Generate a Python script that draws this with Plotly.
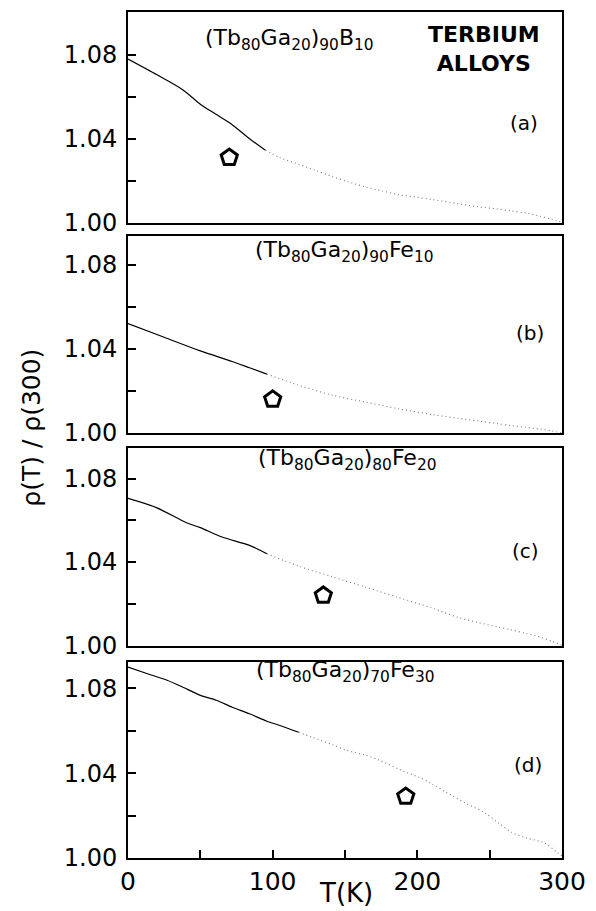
import plotly.graph_objects as go

# ---------------- data ----------------
T_A = [0, 20, 38, 50, 60, 72, 84, 95, 105, 118, 130, 141, 152, 164, 176, 187, 200, 210, 228, 242, 255, 265, 275, 285, 293, 300]
R_A = [1.078, 1.0705, 1.0633, 1.0565, 1.052, 1.0467, 1.040, 1.0345, 1.031, 1.0278, 1.0248, 1.022, 1.0195, 1.017, 1.015, 1.0133,
       1.012, 1.011, 1.009, 1.0075, 1.0065, 1.0055, 1.0045, 1.003, 1.0015, 1.000]

T_B = [0, 25, 50, 72, 84, 96, 118, 141, 164, 187, 210, 228, 242, 255, 265, 275, 285, 293, 300]
R_B = [1.052, 1.0455, 1.039, 1.034, 1.031, 1.028, 1.0227, 1.018, 1.0147, 1.0115, 1.0088, 1.007, 1.0057, 1.0045, 1.0035,
       1.0027, 1.0018, 1.001, 1.000]

T_C = [0, 20, 40, 50, 65, 84, 96, 118, 141, 164, 187, 210, 228, 242, 255, 265, 275, 285, 293, 300]
R_C = [1.0705, 1.066, 1.059, 1.0565, 1.052, 1.048, 1.044, 1.038, 1.033, 1.028, 1.023, 1.018, 1.0135, 1.011, 1.009,
       1.0075, 1.0058, 1.004, 1.002, 1.000]

T_D = [0, 15, 27, 38, 50, 61, 72, 84, 96, 105, 118, 127, 141, 151, 164, 174, 187, 192, 201, 210, 220, 233, 247, 256,
       265, 275, 288, 297, 300]
R_D = [1.090, 1.0865, 1.0838, 1.0805, 1.0767, 1.0744, 1.0711, 1.068, 1.0645, 1.0625, 1.0593, 1.057, 1.0535, 1.0508,
       1.0485, 1.0461, 1.042, 1.0405, 1.0381, 1.035, 1.031, 1.026, 1.0212, 1.0165, 1.0122, 1.0095, 1.0071, 1.0024, 1.001]

SPLIT_T = [95, 110, 96, 118]          # where the solid trace turns into dots
MARK_T = [70, 100, 135, 192]          # arrow markers
MARK_R = [1.031, 1.016, 1.024, 1.029]

NAMES = [
    "(Tb<sub>80</sub>Ga<sub>20</sub>)<sub>90</sub>B<sub>10</sub>",
    "(Tb<sub>80</sub>Ga<sub>20</sub>)<sub>90</sub>Fe<sub>10</sub>",
    "(Tb<sub>80</sub>Ga<sub>20</sub>)<sub>80</sub>Fe<sub>20</sub>",
    "(Tb<sub>80</sub>Ga<sub>20</sub>)<sub>70</sub>Fe<sub>30</sub>",
]
TAGS = ["(a)", "(b)", "(c)", "(d)"]
X_TICKVALS = [0, 100, 200, 300]
X_MINOR = [50, 150, 250]
Y_TICKVALS = [1.00, 1.04, 1.08]
Y_TICKTEXT = ["1.00", "1.04", "1.08"]
Y_MINOR = [1.02, 1.06]
Y_TOPS = [1.1005, 1.0934, 1.0947, 1.0922]

SERIES = [(T_A, R_A), (T_B, R_B), (T_C, R_C), (T_D, R_D)]

# ---------------- layout geometry ----------------
W, H = 596, 911
ML, MR, MT, MB = 128, 31, 10, 53
PW, PH = W - ML - MR, H - MT - MB


def px(x):
    return (x - ML) / PW


def py(y):
    return (H - MB - y) / PH


PANEL_PIX = [(221, 10), (432, 235), (645, 447), (858, 662)]  # bottom, top (pixels)
TITLE_POS = [(291, 38), (346, 250), (349, 459), (347, 671)]
TAG_POS = [(527, 121), (533, 332), (528, 550), (531, 765)]

FONT = "DejaVu Sans"

fig = go.Figure()
layout = dict(
    width=W, height=H,
    margin=dict(l=ML, r=MR, t=MT, b=MB, pad=0),
    paper_bgcolor="white", plot_bgcolor="white",
    showlegend=False,
    font=dict(family=FONT, color="black"),
    annotations=[],
)

for i, (tt, rr) in enumerate(SERIES):
    xa = "x" if i == 0 else f"x{i+1}"
    ya = "y" if i == 0 else f"y{i+1}"
    s = SPLIT_T[i]
    t1 = [t for t in tt if t <= s]
    r1 = [r for t, r in zip(tt, rr) if t <= s]
    t2 = [t for t in tt if t >= s]
    r2 = [r for t, r in zip(tt, rr) if t >= s]
    if t2 and t1 and t1[-1] != t2[0]:
        t2 = [t1[-1]] + t2
        r2 = [r1[-1]] + r2
    fig.add_trace(go.Scatter(x=t1, y=r1, mode="lines",
                             line=dict(color="black", width=1.2, shape="spline", smoothing=0.8),
                             xaxis=xa, yaxis=ya, hoverinfo="skip"))
    fig.add_trace(go.Scatter(x=t2, y=r2, mode="lines",
                             line=dict(color="#7a7a7a", width=1.1, dash="1px,3px", shape="spline", smoothing=0.8),
                             xaxis=xa, yaxis=ya, hoverinfo="skip"))
    fig.add_trace(go.Scatter(x=[MARK_T[i]], y=[MARK_R[i]], mode="markers",
                             marker=dict(symbol="pentagon", size=17, color="white",
                                         line=dict(color="black", width=3)),
                             xaxis=xa, yaxis=ya, hoverinfo="skip"))

    bottom, top = PANEL_PIX[i]
    key_x = "xaxis" if i == 0 else f"xaxis{i+1}"
    key_y = "yaxis" if i == 0 else f"yaxis{i+1}"
    last = i == 3
    layout[key_x] = dict(
        domain=[0, 1], anchor=ya, range=[0, 300],
        showline=True, linecolor="black", linewidth=2, mirror=True,
        showgrid=False, zeroline=False,
        ticks="inside" if last else "", ticklen=8, tickwidth=1.5, tickcolor="black",
        tickvals=X_TICKVALS,
        showticklabels=last, tickfont=dict(family=FONT, size=25, color="black"),
    )
    if last:
        layout[key_x]["minor"] = dict(tickvals=X_MINOR, ticks="inside", ticklen=8,
                                      tickwidth=1.5, tickcolor="black", showgrid=False)
    if i > 0:
        layout[key_x]["matches"] = "x"
    layout[key_y] = dict(
        domain=[py(bottom), py(top)], anchor=xa, range=[1.0, Y_TOPS[i]],
        showline=True, linecolor="black", linewidth=2, mirror=True,
        showgrid=False, zeroline=False,
        ticks="inside", ticklen=8, tickwidth=1.5, tickcolor="black",
        tickvals=Y_TICKVALS, ticktext=Y_TICKTEXT,
        minor=dict(tickvals=Y_MINOR, ticks="inside", ticklen=8, tickwidth=1.5,
                   tickcolor="black", showgrid=False),
        tickfont=dict(family=FONT, size=24, color="black"),
        ticklabelstandoff=4,
    )
    tx, ty = TITLE_POS[i]
    layout["annotations"].append(dict(
        text=NAMES[i], x=px(tx), y=py(ty), xref="paper", yref="paper",
        xanchor="center", yanchor="middle", showarrow=False,
        font=dict(family=FONT, size=22, color="black")))
    gx, gy = TAG_POS[i]
    layout["annotations"].append(dict(
        text=TAGS[i], x=px(gx), y=py(gy), xref="paper", yref="paper",
        xanchor="center", yanchor="middle", showarrow=False,
        font=dict(family=FONT, size=20, color="black")))

layout["annotations"].append(dict(
    text="<b>TERBIUM</b><br><b>ALLOYS</b>", x=px(486), y=py(47), xref="paper", yref="paper",
    xanchor="center", yanchor="middle", showarrow=False, align="center",
    font=dict(family=FONT, size=22, color="black")))
layout["annotations"].append(dict(
    text="ρ(T) / ρ(300)", x=px(30), y=py(427), xref="paper", yref="paper",
    xanchor="center", yanchor="middle", showarrow=False, textangle=-90,
    font=dict(family=FONT, size=25, color="black")))
layout["annotations"].append(dict(
    text="T(K)", x=px(348), y=py(893), xref="paper", yref="paper",
    xanchor="center", yanchor="middle", showarrow=False,
    font=dict(family=FONT, size=26, color="black")))

fig.update_layout(**layout)
fig.write_html("out.html")
